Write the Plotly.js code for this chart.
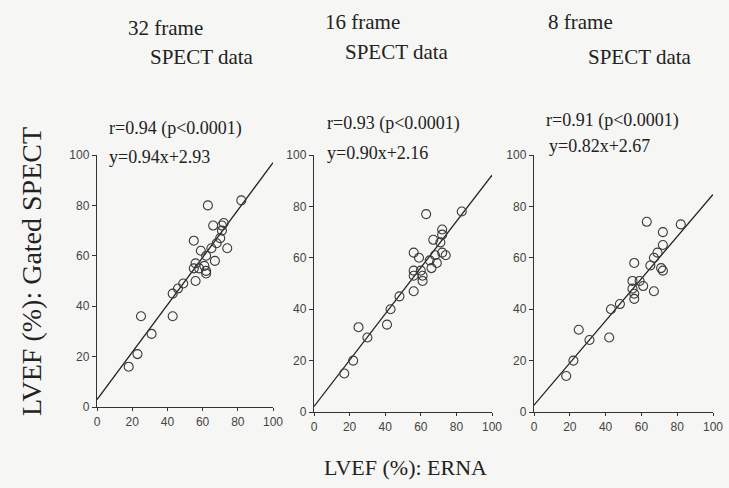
<!DOCTYPE html>
<html>
<head>
<meta charset="utf-8">
<script src="https://cdn.plot.ly/plotly-3.0.1.min.js"></script>
<style>html,body{margin:0;padding:0;background:#f6f6f4;}#chart{width:729px;height:488px;}</style>
</head>
<body>
<div id="chart"></div>
<script>
// Panel 1: 32 frame
const x32 = [82, 63, 72, 71, 66, 71, 70, 55, 74, 68, 65, 59, 62, 67, 56, 55, 61, 62, 58, 62, 56, 49, 46, 43, 43, 25, 31, 23, 18];
const y32 = [82, 80, 73, 72, 72, 70, 67, 66, 63, 65, 63, 62, 60, 58, 57, 55, 56, 54, 55, 53, 50, 49, 47, 45, 36, 36, 29, 21, 16];
// Panel 2: 16 frame
const x16 = [83, 63, 72, 72, 67, 71, 72, 74, 68, 56, 59, 65, 69, 66, 56, 60, 56, 61, 61, 56, 48, 43, 41, 25, 30, 22, 17];
const y16 = [78, 77, 71, 69, 67, 66, 62, 61, 61, 62, 60, 59, 58, 56, 55, 55, 53, 53, 51, 47, 45, 40, 34, 33, 29, 20, 15];
// Panel 3: 8 frame
const x8 = [82, 63, 72, 72, 69, 67, 56, 65, 72, 71, 55, 59, 61, 55, 56, 67, 56, 48, 43, 42, 25, 31, 22, 18];
const y8 = [73, 74, 70, 65, 62, 60, 58, 57, 55, 56, 51, 51, 49, 48, 46, 47, 44, 42, 40, 29, 32, 28, 20, 14];
// Regression line end points (x = 0 and x = 100)
const fitX = [0, 100];
const fit32 = [2.93, 96.93];
const fit16 = [2.16, 92.16];
const fit8 = [2.67, 84.67];
// Texts
const panelTitles = ["32 frame", "16 frame", "8 frame"];
const panelSub = ["SPECT data", "SPECT data", "SPECT data"];
const rTexts = ["r=0.94 (p<0.0001)", "r=0.93 (p<0.0001)", "r=0.91 (p<0.0001)"];
const eqTexts = ["y=0.94x+2.93", "y=0.90x+2.16", "y=0.82x+2.67"];
const tickVals = [0, 20, 40, 60, 80, 100];

const serif = "Liberation Serif, Times New Roman, serif";
const sans = "Liberation Sans, Arial, sans-serif";
const ink = "#333";

function pts(x, y, n) {
  return {x: x, y: y, xaxis: 'x' + n, yaxis: 'y' + n, type: 'scatter', mode: 'markers',
    marker: {symbol: 'circle-open', size: 9, color: '#3a3a3a', line: {width: 1.1, color: '#3a3a3a'}},
    hoverinfo: 'skip', showlegend: false};
}
function fit(y, n) {
  return {x: fitX, y: y, xaxis: 'x' + n, yaxis: 'y' + n, type: 'scatter', mode: 'lines',
    line: {color: '#222', width: 1.3}, hoverinfo: 'skip', showlegend: false};
}
const data = [fit(fit32, ''), pts(x32, y32, ''), fit(fit16, 2), pts(x16, y16, 2), fit(fit8, 3), pts(x8, y8, 3)];

function xa(dom, anchor) {
  return {domain: dom, anchor: anchor, range: [0, 100], tickvals: tickVals, ticks: 'outside', ticklen: 3,
    tickwidth: 1, tickcolor: ink, showline: true, linecolor: ink, linewidth: 1.2, showgrid: false,
    zeroline: false, tickfont: {family: sans, size: 12, color: '#444'}, fixedrange: true};
}
function ya(dom, anchor) {
  return {domain: dom, anchor: anchor, range: [0, 100], tickvals: tickVals, ticks: 'outside', ticklen: 4,
    tickwidth: 1, tickcolor: ink, showline: true, linecolor: ink, linewidth: 1.2, showgrid: false,
    zeroline: false, tickfont: {family: sans, size: 12, color: '#444'}, fixedrange: true};
}

const H = 488, W = 729;
function ann(text, xpx, ypx, size, extra) {
  return Object.assign({text: text, xref: 'paper', yref: 'paper', x: xpx / W, y: 1 - ypx / H,
    xanchor: 'left', yanchor: 'middle', showarrow: false,
    font: {family: serif, size: size, color: '#222'}}, extra || {});
}
const annotations = [
  ann(panelTitles[0], 126, 28, 21), ann(panelSub[0], 148, 57, 21),
  ann(panelTitles[1], 323, 22, 21), ann(panelSub[1], 343, 52, 21),
  ann(panelTitles[2], 546, 22, 21), ann(panelSub[2], 586, 57, 21),
  ann(rTexts[0], 107, 128, 18), ann(eqTexts[0], 107, 157, 18),
  ann(rTexts[1], 325, 124, 18), ann(eqTexts[1], 325, 153, 18),
  ann(rTexts[2], 544, 120, 18), ann(eqTexts[2], 547, 146, 18),
  ann("LVEF (%): Gated SPECT", 31, 272, 28, {xanchor: 'center', textangle: -90}),
  ann("LVEF (%): ERNA", 405, 467, 22, {xanchor: 'center'})
];

const layout = {
  width: W, height: H, margin: {l: 0, r: 0, t: 0, b: 0},
  paper_bgcolor: '#f6f6f4', plot_bgcolor: 'rgba(0,0,0,0)', showlegend: false,
  xaxis: xa([97 / W, 273 / W], 'y'),
  yaxis: ya([1 - 407 / H, 1 - 155 / H], 'x'),
  xaxis2: xa([314 / W, 492 / W], 'y2'),
  yaxis2: ya([1 - 412 / H, 1 - 155 / H], 'x2'),
  xaxis3: xa([534 / W, 713 / W], 'y3'),
  yaxis3: ya([1 - 412 / H, 1 - 155 / H], 'x3'),
  annotations: annotations
};
Plotly.newPlot('chart', data, layout, {staticPlot: true, displayModeBar: false});
</script>
</body>
</html>
